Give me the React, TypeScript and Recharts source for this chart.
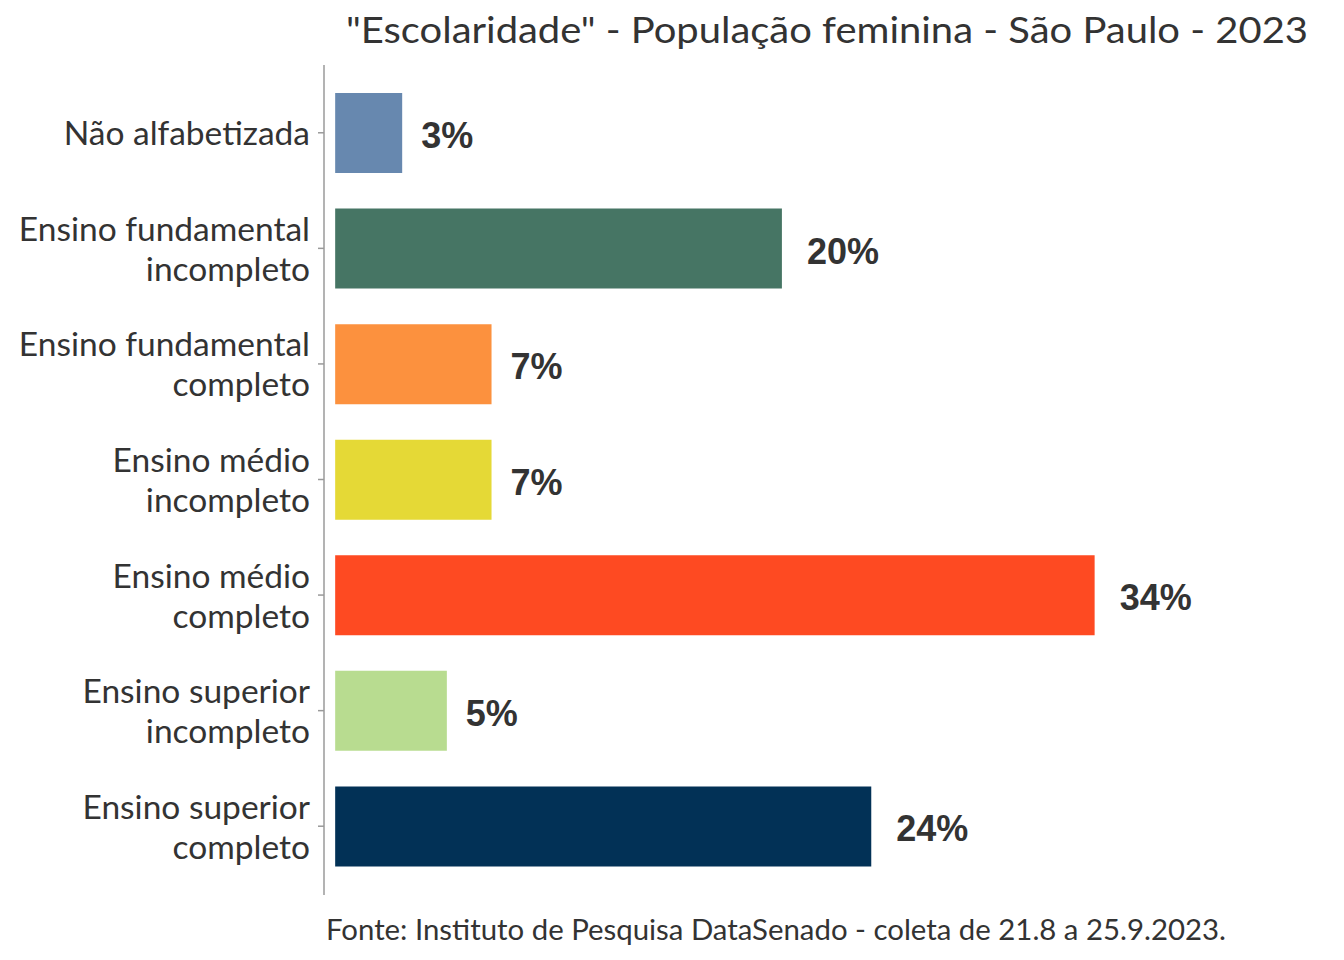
import React from "react";
import { BarChart, Bar, XAxis, YAxis, Cell, LabelList } from "recharts";

const categories: string[][] = [
  ["Não alfabetizada"],
  ["Ensino fundamental", "incompleto"],
  ["Ensino fundamental", "completo"],
  ["Ensino médio", "incompleto"],
  ["Ensino médio", "completo"],
  ["Ensino superior", "incompleto"],
  ["Ensino superior", "completo"],
];
const values: number[] = [3, 20, 7, 7, 34, 5, 24];
const colors: string[] = ["#6788AF", "#467564", "#FC913E", "#E5D936", "#FE4A22", "#B8DC90", "#023156"];
const titleText = "\"Escolaridade\" - População feminina - São Paulo - 2023";
const captionText = "Fonte: Instituto de Pesquisa DataSenado - coleta de 21.8 a 25.9.2023.";

const data = categories.map((lines, i) => ({ name: lines.join("\n"), value: values[i] }));

const TEXT_FONT = "Lato, 'Open Sans', sans-serif";

const YTick = (props: any) => {
  const { x, y, payload } = props;
  const lines: string[] = String(payload.value).split("\n");
  const n = lines.length;
  return (
    <text x={x} y={y} textAnchor="end" fill="#333333" fontFamily={TEXT_FONT} fontSize={33.5}>
      {lines.map((l, i) => (
        <tspan key={i} x={x} y={y + 12.5 - (n - 1) * 20 + i * 40}>
          {l}
        </tspan>
      ))}
    </text>
  );
};

const ValueLabel = (props: any) => {
  const { x, y, width, height, value } = props;
  const off = value >= 10 ? 25 : 19;
  return (
    <text
      x={x + width + off}
      y={y + height / 2 + 15}
      textAnchor="start"
      fill="#333333"
      fontFamily="'Liberation Sans', Arial, sans-serif"
      fontWeight="bold"
      fontSize={36}
    >
      {`${value}%`}
    </text>
  );
};

export default function App() {
  return (
    <div style={{ position: "absolute", left: 0, top: 0, width: 1344, height: 960, background: "#ffffff" }}>
      <BarChart
        width={1344}
        height={960}
        data={data}
        layout="vertical"
        margin={{ top: 65, right: 26, bottom: 65, left: 0 }}
      >
        <XAxis type="number" domain={[-0.5, 44]} allowDataOverflow hide />
        <YAxis
          type="category"
          dataKey="name"
          width={324}
          axisLine={{ stroke: "#9a9a9a", strokeWidth: 1.5 }}
          tickLine={{ stroke: "#9a9a9a", strokeWidth: 1.5 }}
          tickSize={6}
          tickMargin={8}
          padding={{ top: 10, bottom: 11 }}
          tick={<YTick />}
          interval={0}
        />
        <Bar dataKey="value" barSize={80} isAnimationActive={false}>
          {data.map((d, i) => (
            <Cell key={i} fill={colors[i]} />
          ))}
          <LabelList dataKey="value" content={<ValueLabel />} />
        </Bar>
      </BarChart>
      <svg width={1344} height={960} style={{ position: "absolute", left: 0, top: 0, pointerEvents: "none" }}>
        <text
          x={346}
          y={43}
          fill="#333333"
          fontFamily={TEXT_FONT}
          fontSize={37}
          textLength={962}
          lengthAdjust="spacingAndGlyphs"
        >
          {titleText}
        </text>
        <text
          x={326}
          y={940}
          fill="#333333"
          fontFamily={TEXT_FONT}
          fontSize={29}
          textLength={900}
          lengthAdjust="spacingAndGlyphs"
        >
          {captionText}
        </text>
      </svg>
    </div>
  );
}
